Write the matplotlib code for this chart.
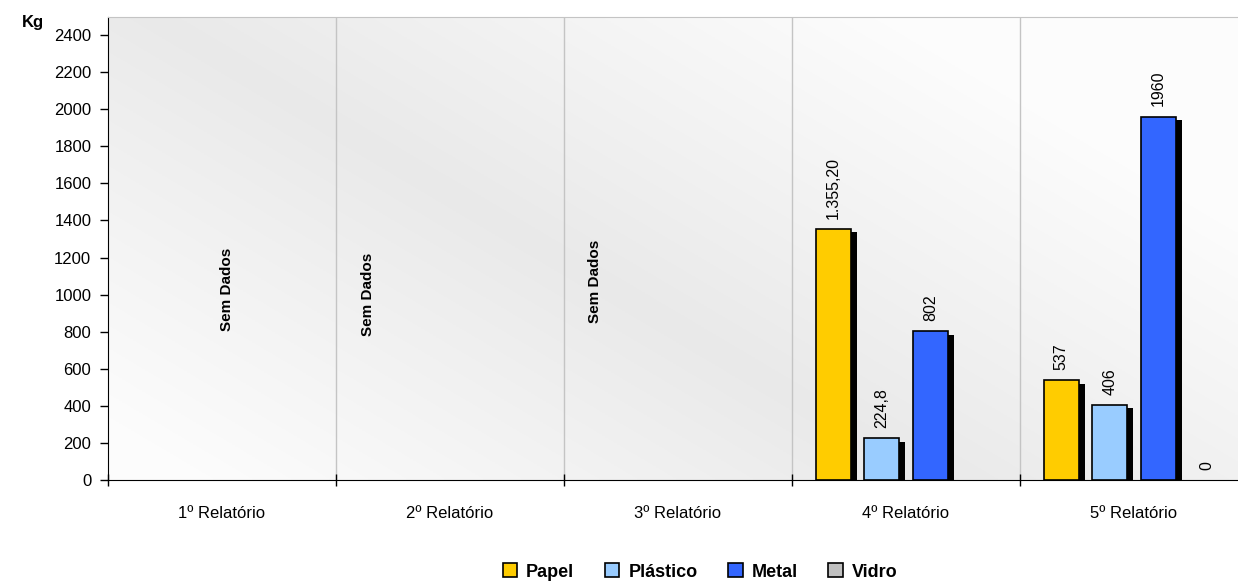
import matplotlib.pyplot as plt
import numpy as np
from matplotlib.patches import Patch

plt.rcParams['font.family'] = ['Liberation Sans', 'DejaVu Sans']

# data
relatorios = ['1º Relatório', '2º Relatório', '3º Relatório', '4º Relatório', '5º Relatório']
materiais = ['Papel', 'Plástico', 'Metal', 'Vidro']
cores = ['#FFCC00', '#99CCFF', '#3366FF', '#C0C0C0']

# None = no data for that report
papel = [None, None, None, 1355.2, 537]
plastico = [None, None, None, 224.8, 406]
metal = [None, None, None, 802, 1960]
vidro = [None, None, None, None, 0]

rotulos_papel = [None, None, None, '1.355,20', '537']
rotulos_plastico = [None, None, None, '224,8', '406']
rotulos_metal = [None, None, None, '802', '1960']
rotulos_vidro = [None, None, None, None, '0']

sem_dados = ['Sem Dados', 'Sem Dados', 'Sem Dados']
sem_dados_pos = [(0.52, 1030), (1.14, 1000), (2.135, 1070)]

series = [papel, plastico, metal, vidro]
rotulos = [rotulos_papel, rotulos_plastico, rotulos_metal, rotulos_vidro]

fig = plt.figure(figsize=(12.38, 5.81), dpi=100)
ax = fig.add_axes([108 / 1238, 101 / 581, 1 - 108 / 1238, 463.5 / 581])

# plot area is cut by the right edge of the image (last category ends off-canvas)
xmax = (1238 - 108) / 228
ymax = 2500

# gradient background (dark band on the diagonal, light at the corners)
ny, nx = 200, 400
u = np.linspace(0, 1, nx)[None, :]
v = np.linspace(0, 1, ny)[:, None]
s = np.abs(u * 1.3 - v * 0.9 - 0.05)
g = 0.915 + 0.075 * np.clip(s / 0.85, 0, 1)
ax.imshow(np.dstack([g, g, g]), extent=[0, xmax, 0, ymax], aspect='auto',
          origin='upper', zorder=0)

# category separators
for i in range(1, 5):
    ax.axvline(i, color='#c4c4c4', lw=1, zorder=1)

largura = 0.153
passo = 0.213
dx_sombra = 0.027
dy_sombra = 18
centros = np.arange(len(relatorios)) + 0.5

for k, (vals, labs) in enumerate(zip(series, rotulos)):
    off = (k - 1.5) * passo
    for i, val in enumerate(vals):
        if val is None:
            continue
        x = centros[i] + off
        if val > 0:
            ax.bar(x + dx_sombra, max(val - dy_sombra, 0), width=largura,
                   color='black', zorder=2)
            ax.bar(x, val, width=largura, color=cores[k], edgecolor='black',
                   linewidth=1.2, zorder=3)
        ax.text(x, val + 55, labs[i], rotation=90, ha='center', va='bottom',
                fontsize=11.5, zorder=4)

for txt, (x, y) in zip(sem_dados, sem_dados_pos):
    ax.text(x, y, txt, rotation=90, ha='center', va='center', fontsize=11,
            fontweight='bold', zorder=4)

# axes styling
ax.set_yticks(range(0, 2401, 200))
ax.tick_params(axis='y', labelsize=12, length=6, width=1, direction='out', pad=6)
ax.set_xticks(range(0, 5))
ax.set_xticklabels([])
ax.tick_params(axis='x', length=8, width=1, direction='inout')
ax.set_xticks(centros, minor=True)
ax.set_xticklabels(relatorios, minor=True)
ax.tick_params(axis='x', which='minor', length=0, labelsize=12, pad=19)

ax.set_xlim(0, xmax)
ax.set_ylim(0, ymax)

ax.spines['left'].set_color('black')
ax.spines['bottom'].set_color('black')
ax.spines['top'].set_color('#c4c4c4')
ax.spines['right'].set_visible(False)

fig.text(22 / 1238, 1 - 22 / 581, 'Kg', fontsize=12, fontweight='bold',
         ha='left', va='center')

handles = [Patch(facecolor=c, edgecolor='black', linewidth=1.2) for c in cores]
fig.legend(handles, materiais, loc='center', bbox_to_anchor=(700 / 1238, 1 - 572 / 581),
           ncol=4, frameon=False, prop={'weight': 'bold', 'size': 13},
           handlelength=0.8, handleheight=0.8, handletextpad=0.5, columnspacing=1.7)

fig.savefig('out.png', dpi=100)
